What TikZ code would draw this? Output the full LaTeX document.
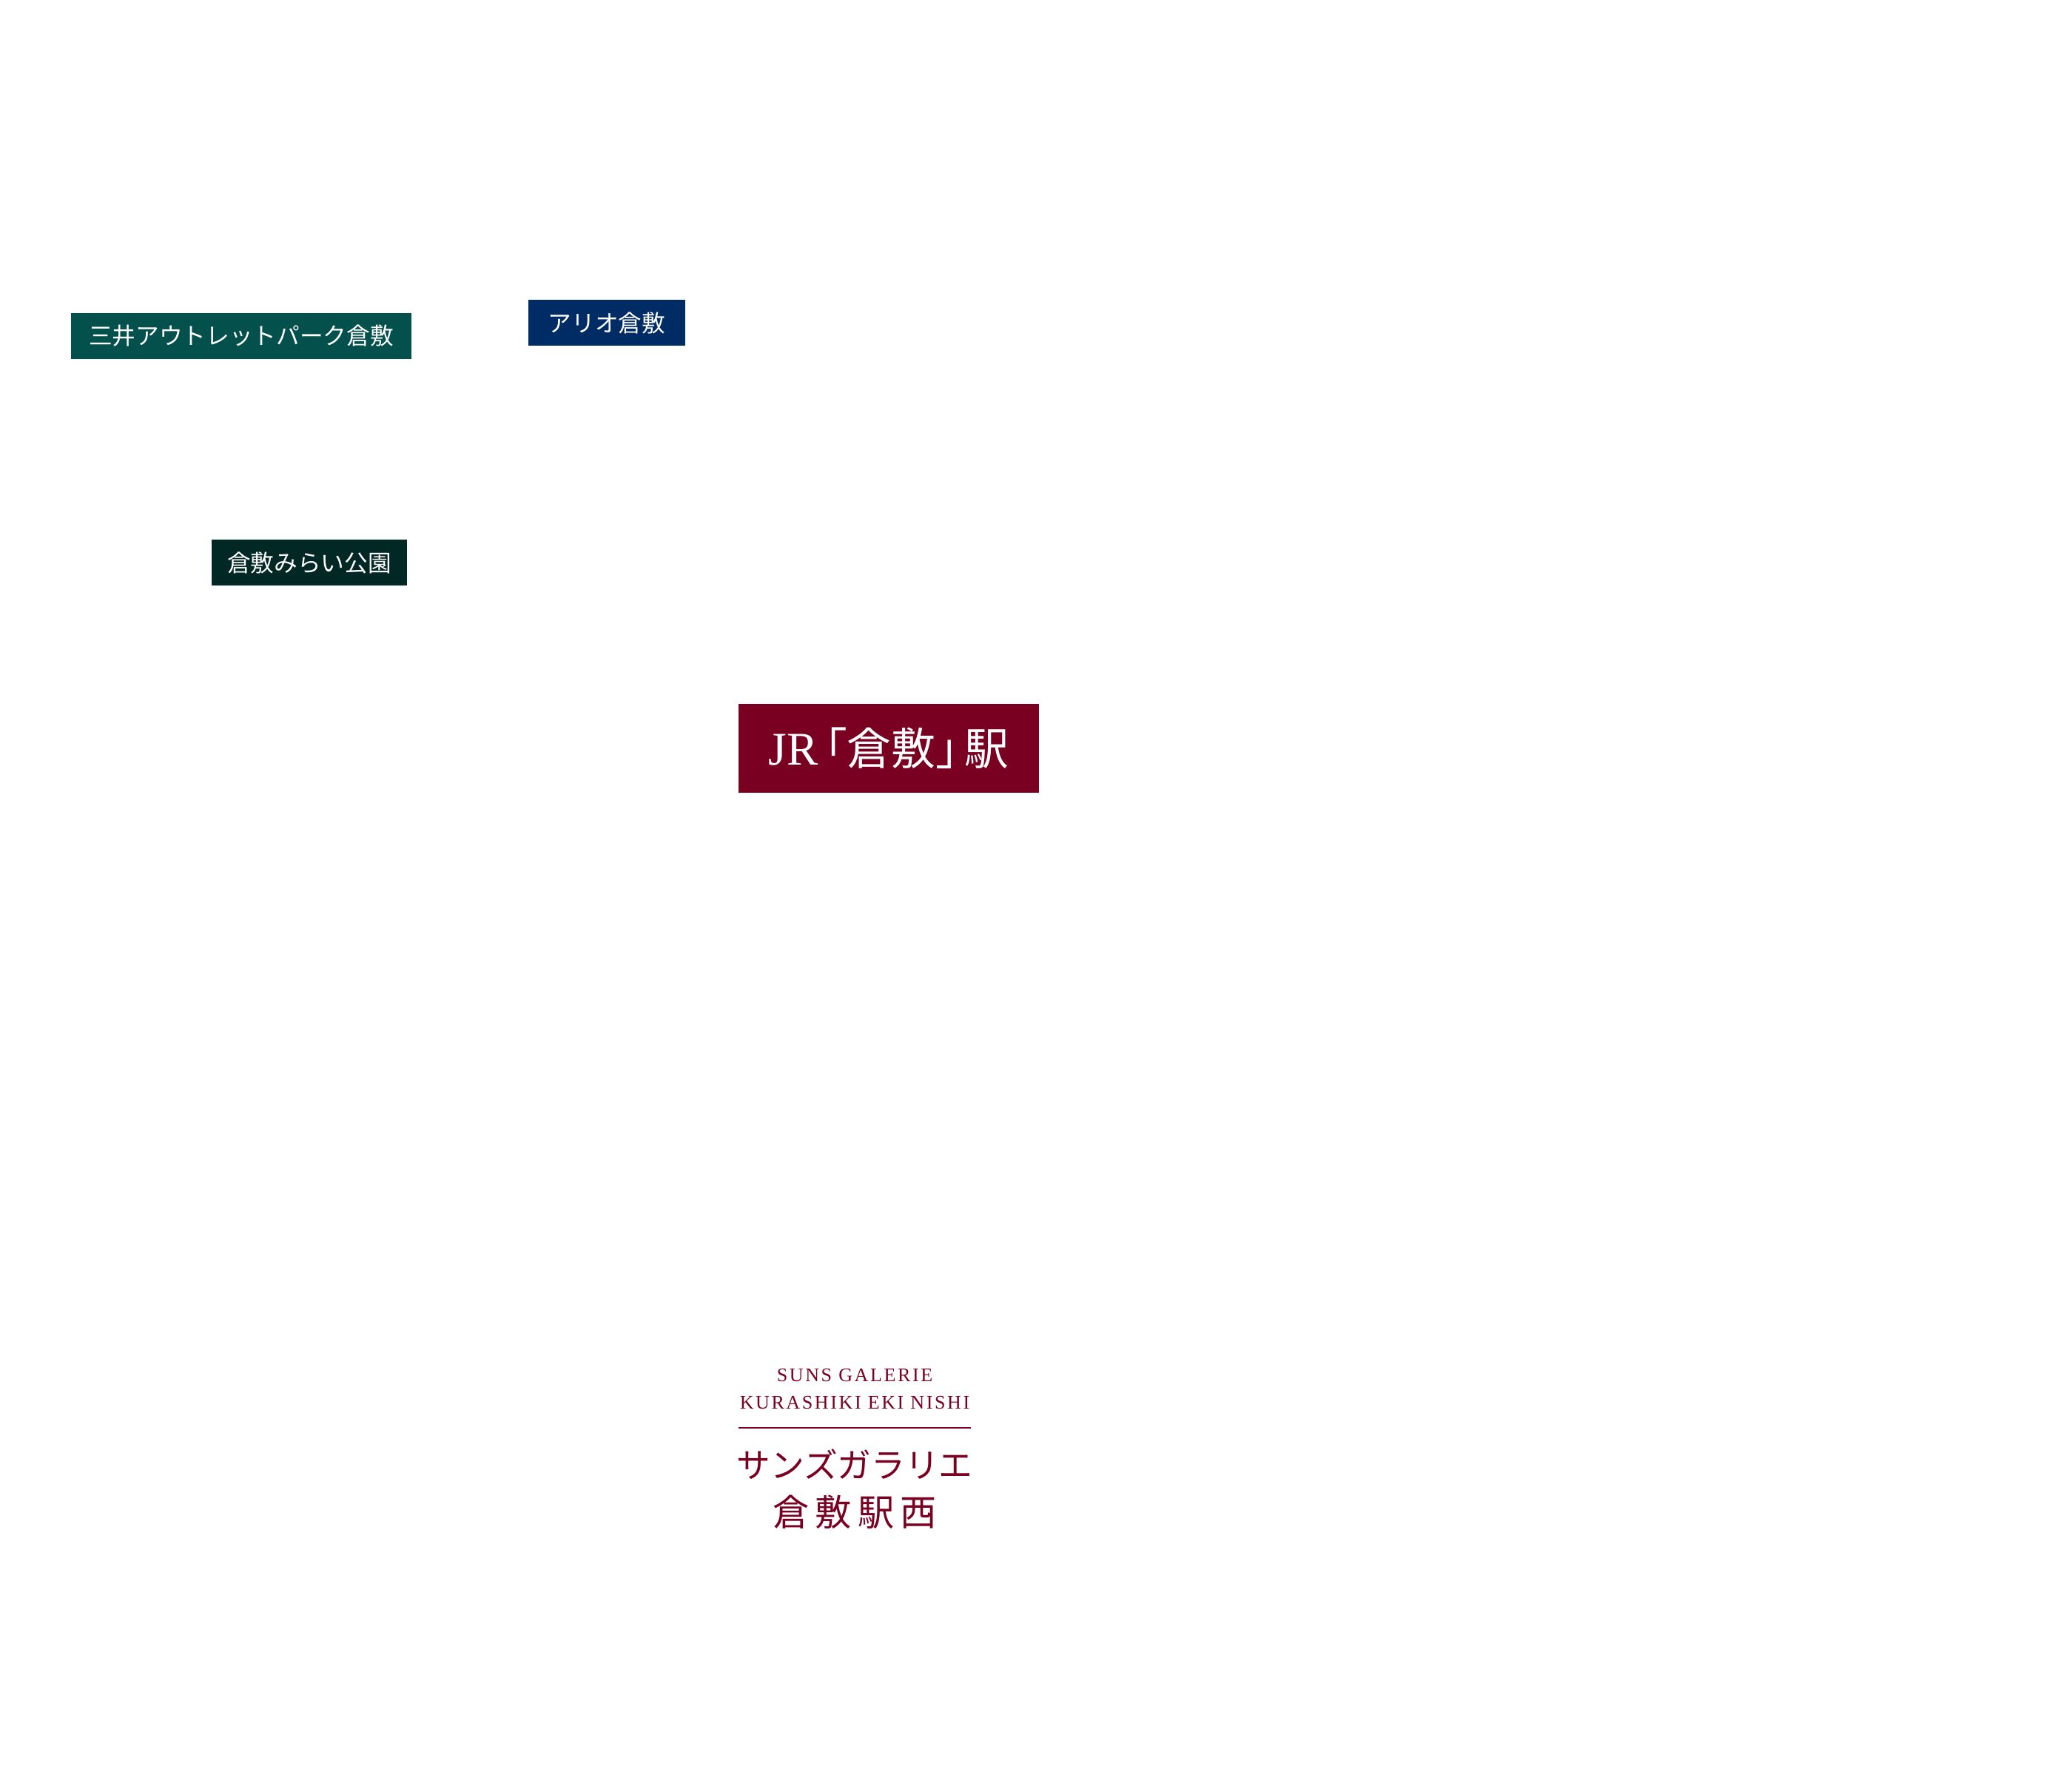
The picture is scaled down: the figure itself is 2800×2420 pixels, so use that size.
\documentclass[tikz,border=0pt]{standalone}
\usepackage{fontspec}
\setmainfont{Liberation Serif}
\newfontfamily\jpfont{Noto Sans CJK JP}
\newfontfamily\enspaced[LetterSpace=10]{Liberation Serif}
\usetikzlibrary{positioning}
\definecolor{outletgreen}{HTML}{03504C}
\definecolor{arionavy}{HTML}{002C66}
\definecolor{miraigreen}{HTML}{022825}
\definecolor{jrred}{HTML}{7A0022}
\tikzset{spot/.style={fill,text=white,inner sep=0pt,font=\jpfont\fontsize{9}{9}\selectfont},
  entext/.style={inner sep=0pt,text=jrred,font=\enspaced\fontsize{7.4}{7.4}\selectfont},
  jptext/.style={inner sep=0pt,text=jrred,font=\jpfont\fontsize{13}{13}\selectfont}}

\begin{document}
\begin{tikzpicture}[x=0.01cm, y=-0.01cm]
    \useasboundingbox (0,0) rectangle (2800,2420);

    % shops and park
    \node[spot, fill=outletgreen, minimum width=4.59cm, minimum height=0.62cm] (outlet) at (326,454) {三井アウトレットパーク倉敷};
    \node[spot, fill=arionavy, minimum width=2.11cm, minimum height=0.62cm] (ario) at (820,436) {アリオ倉敷};
    \node[spot, fill=miraigreen, minimum width=2.64cm, minimum height=0.62cm] (mirai) at (418,760) {倉敷みらい公園};

    % station
    \node[spot, fill=jrred, minimum width=4.06cm, minimum height=1.2cm,
      font=\fontsize{18}{18}\selectfont] (station) at (1201,1011)
      {JR\kern0.05em{\jpfont\fontsize{17}{17}\selectfont\kern-0.4em「倉敷」\kern-0.35em駅}};

    % the site
    \node[entext] (suns-en) at (1155,1858) {SUNS GALERIE};
    \node[entext, below=0.37cm of suns-en.center, anchor=center] (suns-en2) {KURASHIKI EKI NISHI};
    \coordinate (rule-l) at (998,1929);
    \coordinate (rule-r) at (1312,1929);
    \draw[jrred, line width=0.4pt] (rule-l) -- (rule-r);
    \node[jptext] (suns-jp) at (1155,1978) {サンズガラリエ};
    \node[jptext, font=\jpfont\fontsize{14}{14}\selectfont, below=0.65cm of suns-jp.center, anchor=center] (suns-jp2) {倉\,敷\,駅\,西};
\end{tikzpicture}
\end{document}
